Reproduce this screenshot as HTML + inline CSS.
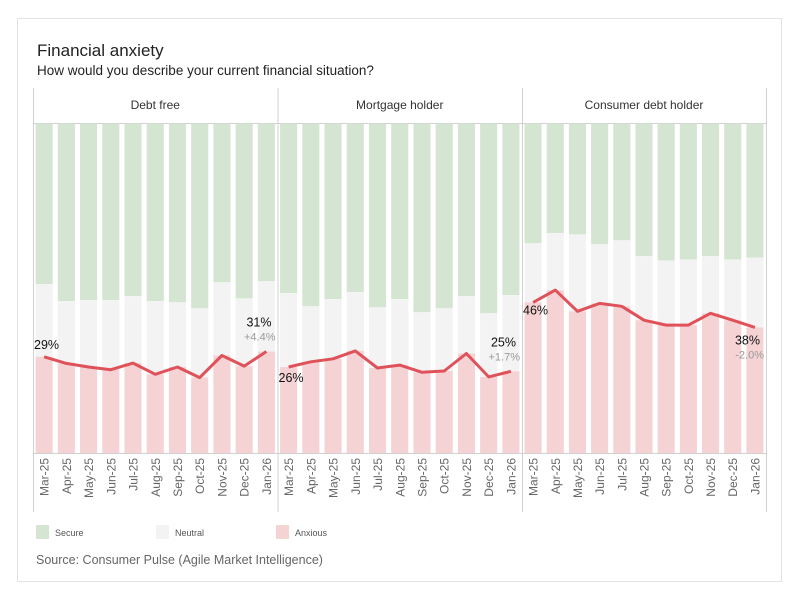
<!DOCTYPE html>
<html><head><meta charset="utf-8"><style>
body{margin:0;background:#fff;font-family:"Liberation Sans",sans-serif;}
svg text{font-family:"Liberation Sans",sans-serif;}
</style></head><body>
<svg width="800" height="600" xmlns="http://www.w3.org/2000/svg">
<rect x="17.5" y="18.5" width="764" height="563" fill="#fff" stroke="#e3e3e3"/>
<text x="37" y="56" font-size="17" fill="#222">Financial anxiety</text>
<text x="37" y="75" font-size="13.5" fill="#222">How would you describe your current financial situation?</text>
<g id="plot"></g>
<rect x="36" y="525" width="13" height="14" fill="#d4e6d2"/>
<text x="55" y="536" font-size="9" fill="#555">Secure</text>
<rect x="156" y="525" width="13" height="14" fill="#f3f3f3"/>
<text x="175" y="536" font-size="9" fill="#555">Neutral</text>
<rect x="276" y="525" width="13" height="14" fill="#f5d3d5"/>
<text x="295" y="536" font-size="9" fill="#555">Anxious</text>
<text x="36" y="564" font-size="12.5" fill="#666">Source: Consumer Pulse (Agile Market Intelligence)</text>
</svg>
<script>
const months = ["Mar-25","Apr-25","May-25","Jun-25","Jul-25","Aug-25","Sep-25","Oct-25","Nov-25","Dec-25","Jan-26"];
const panels = ["Debt free","Mortgage holder","Consumer debt holder"];
const anxiousDebtFree = [29.3,27.3,26.2,25.4,27.4,24.0,26.2,23.0,29.7,26.5,30.9];
const neutralTopDebtFree = [51.3,46.2,46.5,46.5,47.7,46.2,45.8,44.0,51.9,47.0,52.2];
const anxiousMortgage = [26.2,27.8,28.7,31.1,25.9,26.8,24.6,25.0,30.3,23.2,24.9];
const neutralTopMortgage = [48.6,44.6,46.8,48.9,44.3,46.8,42.8,44.0,47.7,42.5,48.0];
const anxiousConsumer = [45.8,49.5,43.1,45.5,44.6,40.4,38.9,38.9,42.5,40.4,38.2];
const neutralTopConsumer = [63.7,66.8,66.4,63.4,64.6,59.8,58.5,58.8,59.8,58.8,59.4];
const firstLabels = ["29%","26%","46%"];
const lastLabels = ["31%","25%","38%"];
const deltaLabels = ["+4.4%","+1.7%","-2.0%"];

const anx=[anxiousDebtFree,anxiousMortgage,anxiousConsumer];
const neu=[neutralTopDebtFree,neutralTopMortgage,neutralTopConsumer];
const NS="http://www.w3.org/2000/svg";
const g=document.getElementById('plot');
function mk(t,a,p){const e=document.createElementNS(NS,t);for(const k in a)e.setAttribute(k,a[k]);(p||g).appendChild(e);return e;}
const px=[33,277.5,522,766];
const yTop=123.5,yBot=453.5;
const y=v=>yBot-(v/100)*(yBot-yTop);
for(let i=0;i<4;i++){const l=mk('line',{x1:px[i]+0.5,x2:px[i]+0.5,y1:88,y2:512,stroke:'#d0d0d0'});

}
const hl=mk('line',{x1:33,x2:766,y1:yTop,y2:yTop,stroke:'#d0d0d0'});


for(let p=0;p<3;p++){
  const x0=px[p],w=px[p+1]-px[p],step=w/months.length,bw=step*0.77;
  const xc=i=>x0+step*(i+0.5);
  const h=mk('text',{x:x0+w/2,y:109,'font-size':12,'text-anchor':'middle',fill:'#333'});
  h.textContent=panels[p];
  
  
  months.forEach((m,i)=>{
    const bx=xc(i)-bw/2;
    const s=mk('rect',{x:bx,y:yTop,width:bw,height:y(neu[p][i])-yTop,fill:'#d4e6d2'});
    
    
    const n=mk('rect',{x:bx,y:y(neu[p][i]),width:bw,height:y(anx[p][i])-y(neu[p][i]),fill:'#f3f3f3'});
    
    
    const a=mk('rect',{x:bx,y:y(anx[p][i]),width:bw,height:yBot-y(anx[p][i]),fill:'#f5d3d5'});
    
    
    const t=mk('text',{transform:`translate(${xc(i)+4.5},458) rotate(-90)`,'font-size':12,'text-anchor':'end',fill:'#666'});
    t.textContent=m;
    
    
  });
  const ax=mk('line',{x1:x0,x2:x0+w,y1:yBot,y2:yBot,stroke:'#d0d0d0'});
  
  
  const pts=anx[p].map((v,i)=>xc(i).toFixed(1)+','+y(v).toFixed(1)).join(' ');
  const ln=mk('polyline',{points:pts,fill:'none',stroke:'#e0525a','stroke-width':3,'stroke-linejoin':'round'});
  
  
  const first=anx[p][0],last=anx[p][months.length-1];
  const fl=mk('text',{x:x0+1,y:p==1?y(first)+15:y(first)-8,'font-size':12.5,fill:'#111'});
  if(p==2) fl.setAttribute('y',y(first)+12);
  fl.textContent=firstLabels[p];
  
  
  const up=p<2;
  const ll=mk('text',{x:x0+w-6,y:up?y(last)-25:y(last)+17,'font-size':12.5,'text-anchor':'end',fill:'#111'});
  ll.textContent=lastLabels[p];
  
  
  const dl=mk('text',{x:x0+w-2,y:up?y(last)-11:y(last)+31,'font-size':11,'text-anchor':'end',fill:'#999'});
  dl.textContent=deltaLabels[p];
  
  
}
</script>
</body></html>
